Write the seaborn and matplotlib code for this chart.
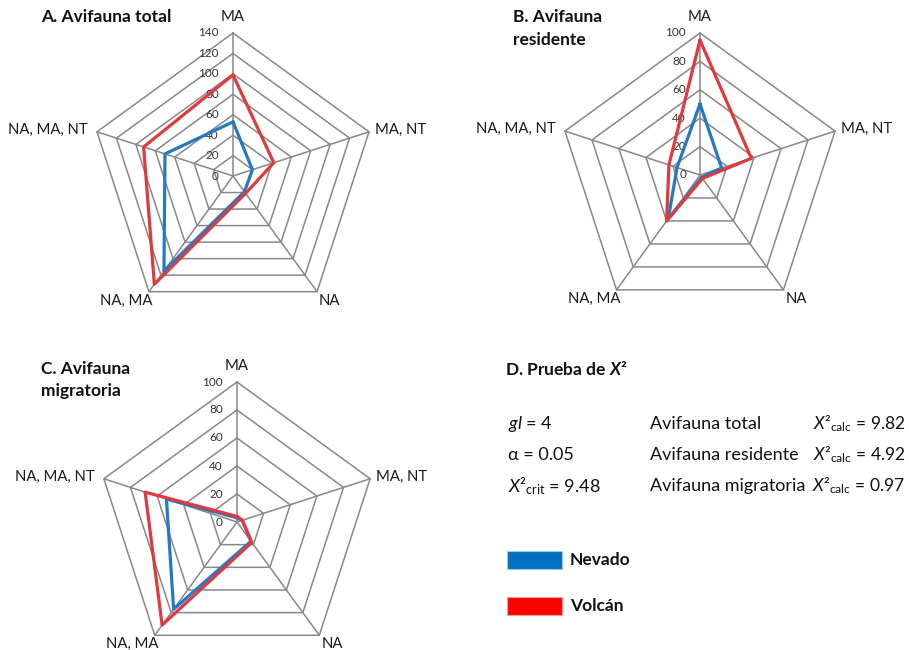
import numpy as np
import pandas as pd
import matplotlib
matplotlib.use("Agg")
import matplotlib.pyplot as plt
from matplotlib.patches import Rectangle
import seaborn as sns

# ---------------- data ----------------
axis_labels = ["MA", "MA, NT", "NA", "NA, MA", "NA, MA, NT"]
series_names = ["Nevado", "Volcán"]

total_nevado = [53, 20, 19, 115, 70]
total_volcan = [99, 42, 21, 131, 92]
resid_nevado = [50, 16, 2, 38, 17]
resid_volcan = [95, 38, 3, 40, 23]
migr_nevado = [3, 4, 17, 77, 53]
migr_volcan = [4, 4, 18, 91, 69]

ticks_total = [0, 20, 40, 60, 80, 100, 120, 140]
ticks_100 = [0, 20, 40, 60, 80, 100]

stat_left = [r"$\mathit{gl}$ = 4", "α = 0.05", r"$\mathit{X}$²$_{\mathrm{crit}}$ = 9.48"]
stat_mid = ["Avifauna total", "Avifauna residente", "Avifauna migratoria"]
stat_right = [r"$\mathit{X}$²$_{\mathrm{calc}}$ = 9.82",
              r"$\mathit{X}$²$_{\mathrm{calc}}$ = 4.92",
              r"$\mathit{X}$²$_{\mathrm{calc}}$ = 0.97"]

# ---------------- style ----------------
sns.set_theme(style="white")
plt.rcParams["font.family"] = ["Lato", "DejaVu Sans"]
plt.rcParams["mathtext.fontset"] = "custom"
plt.rcParams["mathtext.rm"] = "Lato"
plt.rcParams["mathtext.it"] = "Lato:italic"
plt.rcParams["mathtext.bf"] = "Lato:bold"
try:
    plt.rcParams["mathtext.bfit"] = "Lato:bold:italic"
except KeyError:
    pass

line_colors = {"Nevado": "#2479C2", "Volcán": "#E0393E"}
patch_colors = {"Nevado": "#0070C0", "Volcán": "#FF0000"}
grid_color = "#888888"

W, H = 909, 650
fig = plt.figure(figsize=(W / 100, H / 100), dpi=100)
PX2PT = 0.72

theta = np.pi / 2 - 2 * np.pi * np.arange(5) / 5


def radar(cx, cy, ppu, rmax, ticks, nev, vol):
    span = rmax * 1.15
    half = span * ppu
    ax = fig.add_axes([(cx - half) / W, 1 - (cy + half) / H, 2 * half / W, 2 * half / H])
    ax.set_xlim(-span, span)
    ax.set_ylim(-span, span)
    ax.set_axis_off()
    closed = np.append(theta, theta[0])
    for t in ticks[1:]:
        ax.plot(t * np.cos(closed), t * np.sin(closed), color=grid_color, lw=1.1, zorder=1)
    for th in theta:
        ax.plot([0, rmax * np.cos(th)], [0, rmax * np.sin(th)], color=grid_color, lw=1.1, zorder=1)
    rows = []
    for name, vals in zip(series_names, [nev, vol]):
        v = list(vals) + [vals[0]]
        for i, val in enumerate(v):
            th = closed[i]
            rows.append({"serie": name, "x": val * np.cos(th), "y": val * np.sin(th)})
    df = pd.DataFrame(rows)
    sns.lineplot(data=df, x="x", y="y", hue="serie", palette=line_colors, sort=False,
                 estimator=None, lw=2.3, legend=False, ax=ax, zorder=3)
    for t in ticks:
        ax.annotate(str(t), (0, t), xytext=(-14 * PX2PT, 0), textcoords="offset points",
                    ha="right", va="center", fontsize=8.5, color="#333333", zorder=2)
    specs = [("center", "center", 0, 16), ("left", "center", 6, 2), ("left", "top", 2, -2),
             ("right", "top", 4, -2), ("right", "center", -9, 2)]
    for lab, th, (ha, va, dx, dy) in zip(axis_labels, theta, specs):
        ax.annotate(lab, (rmax * np.cos(th), rmax * np.sin(th)), xytext=(dx * PX2PT, dy * PX2PT),
                    textcoords="offset points", ha=ha, va=va, fontsize=10.7, color="#1a1a1a")
    return ax


radar(233, 176, 143 / 140, 140, ticks_total, total_nevado, total_volcan)
radar(700, 175, 1.42, 100, ticks_100, resid_nevado, resid_volcan)
radar(237, 522, 1.40, 100, ticks_100, migr_nevado, migr_volcan)

# overlay axes in pixel coordinates for titles, panel D and legend
ov = fig.add_axes([0, 0, 1, 1], zorder=10)
ov.set_xlim(0, W)
ov.set_ylim(H, 0)
ov.set_axis_off()
ov.patch.set_alpha(0)

tkw = dict(fontsize=12.5, fontweight="bold", color="#111111", va="center", ha="left")
ov.text(41, 17, "A. Avifauna total", **tkw)
ov.text(513, 17, "B. Avifauna", **tkw)
ov.text(513, 40, "residente", **tkw)
ov.text(41, 369, "C. Avifauna", **tkw)
ov.text(41, 391, "migratoria", **tkw)
t = ov.text(505, 369, r"D. Prueba de $\mathbfit{X}$²", **tkw)
try:
    fig.canvas.draw()
except Exception:
    t.remove()
    ov.text(505, 369, "D. Prueba de X²", **tkw)

dkw = dict(fontsize=13, color="#111111", va="center", ha="left")
rows_y = [424, 455, 486]
for y, a, b, c in zip(rows_y, stat_left, stat_mid, stat_right):
    ov.text(508, y, a, **dkw)
    ov.text(650, y, b, **dkw)
    ov.text(905, y, c, **{**dkw, "ha": "right", "fontsize": 12.5})

for name, y in zip(series_names, [560, 606]):
    ov.add_patch(Rectangle((507, y - 9), 55, 18, facecolor=patch_colors[name],
                           edgecolor="#9ec9ee" if name == "Nevado" else "#ff9a9a", lw=0.8))
    ov.text(570, y, name, fontsize=12.5, fontweight="bold", color="#111111", va="center", ha="left")

fig.savefig("out.png", dpi=100, facecolor="white")
